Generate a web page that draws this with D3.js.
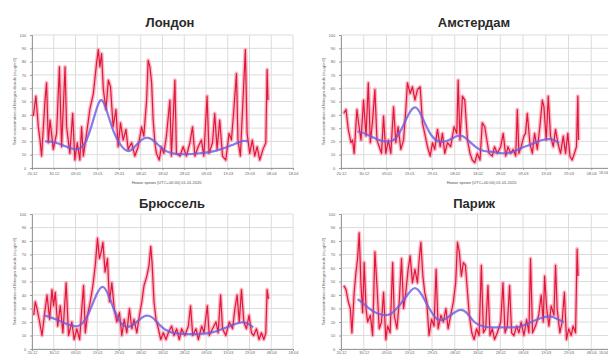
<!DOCTYPE html>
<html><head><meta charset="utf-8">
<script src="https://cdn.jsdelivr.net/npm/d3@7"></script>
<style>
html,body{margin:0;padding:0;background:#fff;}
svg{display:block;font-family:Arial,"Liberation Sans",sans-serif;}
</style></head>
<body>
<svg id="c" width="608" height="356"></svg>
<script>
// ---- data ----
const cities = ["Лондон", "Амстердам", "Брюссель", "Париж"];
const xTickLabels = ["20.12","30.12","09.01","19.01","29.01","08.02","18.02","28.02","09.03","19.03","29.03","08.04","18.04"];
const yTicks = [0,10,20,30,40,50,60,70,80,90,100];
const yLabel = "Total concentration of Nitrogen dioxide (in μg/m3)";
const xLabel = "Новое время (UTC+00:00) 01.01.2020";

// [day, value]
const londonRaw = [[0.6,39],[1.8,54],[2.9,31],[3.7,21],[4.4,9],[6.0,51],[6.7,64],[7.5,19],[8.3,36],[9.8,14],[11.3,26],[12.6,76],[13.6,16],[15.2,76],[15.9,31],[17.4,11],[18.7,41],[19.7,6],[20.8,19],[22.0,6],[22.8,31],[23.6,9],[25.1,26],[26.6,44],[28.2,56],[29.7,79],[30.5,89],[31.2,76],[32.0,86],[32.8,59],[34.0,44],[35.1,66],[36.1,61],[37.3,31],[38.6,44],[39.6,16],[40.7,34],[41.9,21],[43.2,29],[44.2,14],[45.8,19],[47.3,9],[48.8,16],[50.4,31],[51.4,24],[52.7,51],[53.4,81],[54.2,76],[55.0,64],[55.7,36],[56.5,19],[57.2,11],[58.5,6],[59.5,16],[60.6,11],[61.8,24],[63.4,51],[64.1,9],[65.7,66],[66.4,11],[68.0,9],[69.5,16],[71.0,9],[72.6,19],[73.8,31],[74.9,9],[76.4,16],[77.9,21],[79.0,9],[80.5,54],[81.4,11],[83.0,19],[84.0,41],[85.1,14],[86.3,36],[87.6,9],[89.1,6],[90.6,26],[91.7,21],[92.8,44],[94.0,71],[94.7,21],[95.8,9],[97.0,51],[98.1,89],[98.9,26],[100.1,11],[101.3,21],[102.4,9],[103.5,16],[104.7,6],[106.2,14],[107.5,19],[108.1,74],[108.5,51]];
const londonTrend = [[6.0,20],[9.8,20],[15.9,16],[21.3,12.5],[25.1,19],[28.2,36],[31.2,54],[33.5,49],[37.3,26],[41.9,14],[45.0,11],[49.6,21],[53.4,24],[57.2,19],[61.8,11],[69.5,10],[77.1,11],[84.8,12.5],[92.5,17.5],[97.0,21],[99.3,20]];

const amsterdamRaw = [[1.2,41],[2.2,44],[3.2,29],[4.4,19],[5.1,21],[5.8,11],[7.0,44],[7.7,34],[8.8,21],[9.9,51],[11.0,24],[12.0,64],[12.9,19],[13.9,36],[14.9,59],[15.8,21],[16.8,16],[17.8,11],[18.7,39],[19.7,11],[20.8,21],[21.9,11],[23.1,46],[24.1,19],[25.1,31],[26.3,14],[27.5,21],[28.5,44],[29.2,64],[30.4,56],[31.4,61],[32.5,51],[33.6,59],[34.8,61],[35.8,34],[36.8,26],[38.0,16],[39.2,9],[40.2,19],[41.2,14],[42.4,29],[43.6,16],[44.6,26],[45.6,11],[46.8,19],[48.2,16],[49.7,31],[50.9,26],[51.5,66],[52.3,21],[53.4,54],[54.4,51],[55.6,21],[56.7,11],[57.7,6],[58.8,4],[59.9,11],[61.1,6],[62.1,34],[63.2,31],[64.3,19],[65.1,11],[66.5,9],[67.5,16],[68.7,11],[70.2,16],[71.3,26],[72.4,9],[73.4,16],[74.6,11],[75.7,14],[76.8,9],[77.5,44],[78.2,11],[79.2,16],[80.4,24],[81.1,26],[81.9,41],[83.0,19],[84.1,11],[85.1,26],[86.3,14],[87.4,31],[88.5,51],[89.2,46],[90.2,21],[91.1,54],[92.1,24],[93.3,16],[94.3,29],[95.3,19],[96.5,11],[97.7,24],[98.7,11],[99.7,26],[100.6,9],[101.6,6],[102.6,11],[103.5,16],[104.1,54],[104.4,21]];
const amsterdamTrend = [[7.3,27.5],[11.0,26],[16.1,21],[21.2,19],[24.9,22.5],[27.8,34],[30.7,44],[32.9,47],[35.1,41],[38.7,26],[42.4,19],[46.8,20],[50.4,24],[53.4,25],[57.0,19],[61.4,12.5],[65.8,12.5],[70.2,11],[74.6,11],[78.9,15],[83.3,17.5],[87.7,21],[92.1,22.5],[95.8,19]];

const brusselsRaw = [[0.8,25],[1.5,35],[2.3,30],[3.5,20],[4.6,10],[5.7,25],[6.9,40],[8.1,22],[9.2,44],[9.9,32],[10.7,42],[11.8,17],[13.0,32],[14.2,12],[15.7,49],[16.8,10],[18.3,20],[19.4,7],[20.6,15],[21.9,7],[22.9,30],[23.7,47],[24.5,12],[25.5,25],[26.8,35],[28.0,47],[29.1,62],[30.1,82],[31.0,67],[31.8,72],[32.6,79],[33.6,57],[34.7,67],[35.6,35],[36.7,49],[37.8,30],[39.0,20],[40.2,27],[41.3,10],[42.4,22],[43.6,12],[44.8,30],[45.9,15],[46.9,22],[48.2,12],[49.4,25],[50.5,35],[51.5,47],[52.8,54],[53.8,62],[54.6,76],[55.2,64],[56.1,35],[57.0,22],[58.1,15],[59.2,7],[60.4,12],[61.6,7],[62.7,12],[64.2,17],[65.3,10],[66.5,15],[67.7,7],[68.8,15],[70.3,10],[71.9,17],[72.9,32],[73.9,10],[75.4,15],[76.5,7],[78.0,17],[79.1,12],[80.6,32],[81.5,10],[83.0,15],[84.6,20],[85.6,12],[86.7,40],[87.6,15],[89.1,10],[90.7,20],[92.2,15],[93.3,30],[94.3,40],[95.3,20],[96.3,44],[97.4,20],[98.6,15],[99.8,25],[100.9,12],[101.9,10],[103.2,15],[104.4,7],[105.5,12],[106.6,7],[107.5,12],[108.1,44],[108.7,37]];
const brusselsTrend = [[5.4,25],[11.5,22],[17.6,17],[22.2,16],[26.0,25],[29.8,42],[32.9,49],[35.9,37],[39.8,20],[43.6,15],[47.4,18.5],[51.2,25],[55.0,25],[58.9,17],[62.7,12],[69.6,11],[77.2,11],[83.3,12],[89.4,16],[95.6,20],[98.6,20],[101.7,16]];

const parisRaw = [[1.2,47],[2.2,44],[3.2,35],[4.1,30],[4.8,12],[5.8,42],[6.6,57],[7.3,67],[8.0,86],[8.8,47],[9.5,27],[10.2,64],[11.0,30],[11.7,20],[12.9,25],[13.9,10],[14.9,72],[15.8,47],[16.8,15],[17.8,20],[18.7,42],[19.7,7],[20.5,17],[21.6,12],[22.7,64],[23.4,25],[24.6,15],[25.6,35],[26.6,67],[27.5,30],[28.5,42],[29.5,59],[30.4,69],[31.4,49],[32.5,59],[33.6,49],[34.4,67],[35.1,79],[36.0,54],[36.8,42],[37.7,35],[38.7,10],[39.8,22],[40.9,17],[41.8,59],[42.7,15],[43.9,25],[45.0,20],[46.1,30],[47.1,15],[48.2,25],[49.4,35],[50.4,49],[51.2,79],[52.0,72],[52.9,54],[53.8,64],[54.7,62],[55.6,42],[56.4,25],[57.5,12],[58.5,7],[59.6,15],[60.7,10],[61.7,62],[62.6,12],[63.6,15],[64.6,47],[65.5,10],[66.5,15],[67.5,7],[68.7,12],[70.2,20],[71.2,49],[72.1,12],[73.1,17],[74.1,47],[75.0,12],[76.0,10],[77.2,17],[78.2,12],[79.2,20],[80.4,10],[81.6,22],[82.6,12],[83.3,67],[84.2,12],[85.5,17],[86.9,25],[88.0,40],[88.9,20],[89.5,54],[90.4,30],[91.4,17],[92.4,32],[93.6,25],[94.3,62],[95.0,30],[96.2,12],[97.2,20],[98.2,42],[99.1,7],[100.1,15],[101.2,10],[102.0,17],[103.1,12],[103.8,74],[104.2,54]];
const parisTrend = [[7.3,37],[11.0,32],[14.6,27],[18.3,25],[21.9,25],[25.6,32],[29.2,40],[32.2,47],[35.1,42],[38.7,30],[42.4,20],[46.1,22],[49.7,27],[52.6,30],[55.6,27],[58.5,19],[62.9,16],[68.7,16],[74.6,16],[78.9,16],[83.3,20],[87.7,23],[92.1,25],[95.0,22],[98.0,20]];

const panels = [
  {title: cities[0], raw: londonRaw, trend: londonTrend, box:{l:32,r:293,t:35,b:168}, tx:170, ty:27, bottom:false, right:false},
  {title: cities[1], raw: amsterdamRaw, trend: amsterdamTrend, box:{l:341,r:614,t:35,b:168}, tx:474, ty:27, bottom:false, right:true},
  {title: cities[2], raw: brusselsRaw, trend: brusselsTrend, box:{l:32,r:293,t:214,b:349}, tx:172, ty:208, bottom:true, right:false},
  {title: cities[3], raw: parisRaw, trend: parisTrend, box:{l:341,r:614,t:214,b:349}, tx:474, ty:208, bottom:true, right:true}
];

const svg = d3.select("#c");

panels.forEach(p => {
  const b = p.box;
  const x = d3.scaleLinear().domain([0,120]).range([b.l,b.r]);
  const y = d3.scaleLinear().domain([0,100]).range([b.b,b.t]);
  const g = svg.append("g");

  g.append("text").attr("x", p.tx).attr("y", p.ty).attr("text-anchor","middle")
    .attr("font-size", 13).attr("font-weight","bold").attr("fill","#2a2a2a").text(p.title);

  const xt = d3.range(0,121,10);
  g.append("g").selectAll("line").data(xt).join("line")
    .attr("x1",d=>x(d)).attr("x2",d=>x(d)).attr("y1",b.t).attr("y2",b.b)
    .attr("stroke","#dcdcdc").attr("stroke-width",1);
  g.append("g").selectAll("line").data(yTicks).join("line")
    .attr("x1",b.l).attr("x2",b.r).attr("y1",d=>y(d)).attr("y2",d=>y(d))
    .attr("stroke","#dcdcdc").attr("stroke-width",1);

  const xa = d3.axisBottom(x).tickValues(xt).tickSize(2).tickPadding(1).tickFormat((d,i)=>xTickLabels[i]);
  const ya = d3.axisLeft(y).tickValues(yTicks).tickSize(2);
  const gx = g.append("g").attr("transform",`translate(0,${b.b})`).call(xa);
  const gy = g.append("g").attr("transform",`translate(${b.l},0)`).call(ya);
  [gx,gy].forEach(a=>{
    a.selectAll("path").attr("stroke","#9a9a9a");
    a.selectAll("line").attr("stroke","#9a9a9a");
    a.selectAll("text").attr("font-size",4).attr("fill","#666");
  });
  gx.selectAll("text").attr("dy", p.bottom ? "0.5em" : "0.9em");
  gy.selectAll("text").attr("dx","-0.2em");
  if (p.right) {
    gx.selectAll(".tick").filter(d => x(d) > 600).select("text")
      .attr("text-anchor","end").attr("font-size",3.6).attr("x", d => 607.5 - x(d));
  }

  g.append("text").attr("transform",`translate(${b.l-16},${(b.t+b.b)/2}) rotate(-90)`)
    .attr("text-anchor","middle").attr("font-size",4).attr("fill","#555").text(yLabel);
  if (!p.bottom) {
    g.append("text").attr("x",(b.l+b.r)/2 + 4).attr("y",b.b+16)
      .attr("text-anchor","middle").attr("font-size",4).attr("fill","#555").text(xLabel);
  }

  const ln = d3.line().x(d=>x(d[0])).y(d=>y(d[1]));
  g.append("path").datum(p.raw).attr("d",ln).attr("fill","none")
    .attr("stroke","#f47f97").attr("stroke-width",4).attr("stroke-opacity",0.55).attr("stroke-linejoin","round");
  g.append("path").datum(p.raw).attr("d",ln).attr("fill","none")
    .attr("stroke","#e2163a").attr("stroke-width",1.2).attr("stroke-linejoin","round");
  const lt = d3.line().x(d=>x(d[0])).y(d=>y(d[1])).curve(d3.curveBasis);
  g.append("path").datum(p.trend).attr("d",lt).attr("fill","none")
    .attr("stroke","#6a5ce2").attr("stroke-width",2.2).attr("stroke-opacity",0.8);
});
</script>
</body></html>
